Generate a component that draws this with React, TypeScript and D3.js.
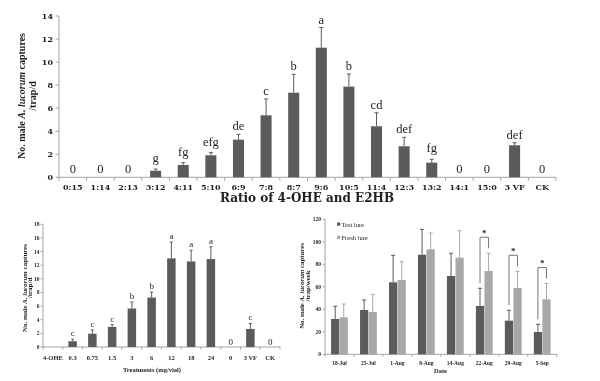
import React from 'react';
import * as d3 from 'd3';

// ---------- Data: top panel (ratio of 4-OHE : E2HB) ----------
const ratioCats = ['0:15', '1:14', '2:13', '3:12', '4:11', '5:10', '6:9', '7:8', '8:7', '9:6', '10:5', '11:4', '12:3', '13:2', '14:1', '15:0', '3 VF', 'CK'];
const ratioMeans = [0, 0, 0, 0.57, 1.07, 1.91, 3.27, 5.38, 7.34, 11.25, 7.87, 4.43, 2.69, 1.27, 0, 0, 2.78, 0];
const ratioErrs = [0, 0, 0, 0.15, 0.2, 0.23, 0.46, 1.42, 1.6, 1.75, 1.1, 1.17, 0.78, 0.29, 0, 0, 0.22, 0];
const ratioLetters = ['0', '0', '0', 'g', 'fg', 'efg', 'de', 'c', 'b', 'a', 'b', 'cd', 'def', 'fg', '0', '0', 'def', '0'];
const ratioTicks = [0, 2, 4, 6, 8, 10, 12, 14];

// ---------- Data: bottom-left panel (dose) ----------
const doseCats = ['4-OHE', '0.3', '0.75', '1.5', '3', '6', '12', '18', '24', '0', '3 VF', 'CK'];
const doseMeans = [0, 0.85, 1.95, 2.95, 5.65, 7.25, 13.0, 12.55, 12.9, 0, 2.65, 0];
const doseErrs = [0, 0.3, 0.55, 0.35, 0.95, 0.8, 2.4, 1.65, 1.8, 0, 0.8, 0];
const doseLetters = ['', 'c', 'c', 'c', 'b', 'b', 'a', 'a', 'a', '0', 'c', '0'];
const doseTicks = [0, 2, 4, 6, 8, 10, 12, 14, 16, 18];

// ---------- Data: bottom-right panel (dates) ----------
const dates = ['18-Jul', '25-Jul', '1-Aug', '8-Aug', '14-Aug', '22-Aug', '29-Aug', '5-Sep'];
const testMeans = [31.4, 39.4, 64, 88.5, 69.6, 43, 29.9, 19.8];
const testErrs = [11.3, 8.9, 24, 22.5, 20.2, 15.7, 9.2, 6.9];
const freshMeans = [32.9, 37.6, 66, 93.3, 85.9, 74, 59, 48.9];
const freshErrs = [11.8, 15.7, 16.3, 14.5, 24, 15.8, 14.8, 14];
const sigDates = ['22-Aug', '29-Aug', '5-Sep'];
const dateTicks = [0, 20, 40, 60, 80, 100, 120];
const seriesNames = ['Test lure', 'Fresh lure'];

const DARK = '#5b5b5b';
const LIGHT = '#a8a8a8';
const AXIS = '#a3a3a3';
const TXT = '#1e1e1e';
const SERIF = '"Liberation Serif", "Times New Roman", serif';
const WIDE = '"DejaVu Serif", serif';

function YLabel({ x1, x2, cy, size, second }: { x1: number; x2: number; cy: number; size: number; second: string }) {
  return (
    <g fontFamily={SERIF} fontWeight="bold" fontSize={size} fill={TXT} textAnchor="middle">
      <text transform={`translate(${x1},${cy}) rotate(-90)`}>
        No. male <tspan fontStyle="italic">A. lucorum</tspan> captures
      </text>
      <text transform={`translate(${x2},${cy}) rotate(-90)`}>{second}</text>
    </g>
  );
}

function TopPanel() {
  const x = d3.scaleBand<string>().domain(ratioCats).range([59, 556]).paddingInner(0.6).paddingOuter(0.3);
  const y = d3.scaleLinear().domain([0, 14]).range([177.3, 16]);
  const step = x.step();
  const bounds = d3.range(ratioCats.length + 1).map((i) => 59 + i * step);
  return (
    <g>
      <line x1={59} x2={59} y1={y(0)} y2={y(14)} stroke={AXIS} />
      {ratioTicks.map((t) => (
        <g key={t}>
          <line x1={55.5} x2={59} y1={y(t)} y2={y(t)} stroke={AXIS} />
          <text x={53} y={y(t) + 3} textAnchor="end" fontFamily={WIDE} fontWeight="bold" fontSize={8} fill={TXT}>{t}</text>
        </g>
      ))}
      <line x1={59} x2={556} y1={y(0)} y2={y(0)} stroke={AXIS} />
      {bounds.map((b, i) => (
        <line key={i} x1={b} x2={b} y1={y(0)} y2={y(0) + 3.5} stroke={AXIS} />
      ))}
      {ratioCats.map((c, i) => {
        const cx = (x(c) as number) + x.bandwidth() / 2;
        const m = ratioMeans[i];
        const e = ratioErrs[i];
        const lbl = ratioLetters[i];
        const desc = lbl.includes('g') ? 3 : 0;
        return (
          <g key={c}>
            {m > 0 && <rect x={x(c)} y={y(m)} width={x.bandwidth()} height={y(0) - y(m)} fill={DARK} />}
            {m > 0 && (
              <g stroke={DARK} strokeWidth={1}>
                <line x1={cx} x2={cx} y1={y(m)} y2={y(m + e)} />
                <line x1={cx - 2} x2={cx + 2} y1={y(m + e)} y2={y(m + e)} />
              </g>
            )}
            <text x={cx} y={m > 0 ? y(m + e) - 4 - desc : y(0) - 4.5} textAnchor="middle" fontFamily={SERIF} fontSize={12.5} fill={TXT}>
              {lbl}
            </text>
            <text x={cx} y={190} textAnchor="middle" fontFamily={WIDE} fontWeight="bold" fontSize={8} fill={TXT}>{c}</text>
          </g>
        );
      })}
      <text x={307} y={201.5} textAnchor="middle" fontFamily={WIDE} fontWeight="bold" fontSize={12} fill={TXT}>
        Ratio of 4-OHE and E2HB
      </text>
      <YLabel x1={25} x2={36} cy={96} size={10} second="/trap/d" />
    </g>
  );
}

function DosePanel() {
  const x = d3.scaleBand<string>().domain(doseCats).range([43, 280]).paddingInner(0.57).paddingOuter(0.285);
  const y = d3.scaleLinear().domain([0, 18]).range([347, 224.3]);
  const step = x.step();
  const bounds = d3.range(doseCats.length + 1).map((i) => 43 + i * step);
  return (
    <g>
      <line x1={43} x2={43} y1={y(0)} y2={y(18)} stroke={AXIS} />
      {doseTicks.map((t) => (
        <g key={t}>
          <line x1={40.5} x2={43} y1={y(t)} y2={y(t)} stroke={AXIS} />
          <text x={39.5} y={y(t) + 2} textAnchor="end" fontFamily={SERIF} fontWeight="bold" fontSize={5.5} fill={TXT}>{t}</text>
        </g>
      ))}
      <line x1={43} x2={280} y1={y(0)} y2={y(0)} stroke={AXIS} />
      {bounds.map((b, i) => (
        <line key={i} x1={b} x2={b} y1={y(0)} y2={y(0) + 2.5} stroke={AXIS} />
      ))}
      {doseCats.map((c, i) => {
        const cx = (x(c) as number) + x.bandwidth() / 2;
        const m = doseMeans[i];
        const e = doseErrs[i];
        return (
          <g key={c}>
            {m > 0 && <rect x={x(c)} y={y(m)} width={x.bandwidth()} height={y(0) - y(m)} fill={DARK} />}
            {m > 0 && (
              <g stroke={DARK} strokeWidth={1}>
                <line x1={cx} x2={cx} y1={y(m)} y2={y(m + e)} />
                <line x1={cx - 1.5} x2={cx + 1.5} y1={y(m + e)} y2={y(m + e)} />
              </g>
            )}
            <text x={cx} y={m > 0 ? y(m + e) - 3 : y(0) - 2} textAnchor="middle" fontFamily={SERIF} fontSize={9} fill={TXT}>
              {doseLetters[i]}
            </text>
            <text x={cx} y={360} textAnchor="middle" fontFamily={SERIF} fontWeight="bold" fontSize={6.5} fill={TXT}>{c}</text>
          </g>
        );
      })}
      <text x={152} y={371.5} textAnchor="middle" fontFamily={SERIF} fontWeight="bold" fontSize={6.5} fill={TXT}>
        Treatments (mg/vial)
      </text>
      <YLabel x1={26.5} x2={32} cy={288} size={7} second="/trap/d" />
    </g>
  );
}

function DatePanel() {
  const x = d3.scaleBand<string>().domain(dates).range([325, 556.7]).paddingInner(0.42).paddingOuter(0.21);
  const sub = d3.scaleBand<string>().domain(seriesNames).range([0, x.bandwidth()]).paddingInner(0.04);
  const y = d3.scaleLinear().domain([0, 120]).range([354.3, 219.3]);
  const step = x.step();
  const bounds = d3.range(dates.length + 1).map((i) => 325 + i * step);
  const series = [
    { name: seriesNames[0], means: testMeans, errs: testErrs, color: DARK },
    { name: seriesNames[1], means: freshMeans, errs: freshErrs, color: LIGHT },
  ];
  return (
    <g>
      <line x1={325} x2={325} y1={y(0)} y2={y(120)} stroke={AXIS} />
      {dateTicks.map((t) => (
        <g key={t}>
          <line x1={322.5} x2={325} y1={y(t)} y2={y(t)} stroke={AXIS} />
          <text x={321} y={y(t) + 2} textAnchor="end" fontFamily={SERIF} fontWeight="bold" fontSize={5.5} fill={TXT}>{t}</text>
        </g>
      ))}
      <line x1={325} x2={556.7} y1={y(0)} y2={y(0)} stroke={AXIS} />
      {bounds.map((b, i) => (
        <line key={i} x1={b} x2={b} y1={y(0)} y2={y(0) + 2.5} stroke={AXIS} />
      ))}
      {dates.map((d, i) => {
        const gx = x(d) as number;
        return (
          <g key={d}>
            {series.map((s) => {
              const bx = gx + (sub(s.name) as number);
              const cx = bx + sub.bandwidth() / 2;
              const m = s.means[i];
              const e = s.errs[i];
              return (
                <g key={s.name}>
                  <rect x={bx} y={y(m)} width={sub.bandwidth()} height={y(0) - y(m)} fill={s.color} />
                  <g stroke={s.color} strokeWidth={1}>
                    <line x1={cx} x2={cx} y1={y(m)} y2={y(m + e)} />
                    <line x1={cx - 2} x2={cx + 2} y1={y(m + e)} y2={y(m + e)} />
                  </g>
                </g>
              );
            })}
            <text x={gx + x.bandwidth() / 2} y={365} textAnchor="middle" fontFamily={SERIF} fontWeight="bold" fontSize={5.5} fill={TXT}>{d}</text>
          </g>
        );
      })}
      {sigDates.map((d) => {
        const i = dates.indexOf(d);
        const gx = x(d) as number;
        const c1 = gx + (sub(seriesNames[0]) as number) + sub.bandwidth() / 2;
        const c2 = gx + (sub(seriesNames[1]) as number) + sub.bandwidth() / 2;
        const top1 = y(testMeans[i] + testErrs[i]);
        const top2 = y(freshMeans[i] + freshErrs[i]);
        const by = Math.min(top1, top2) - 16;
        return (
          <g key={d}>
            <path d={`M${c1},${top1 - 5}V${by}H${c2}V${top2 - 5}`} fill="none" stroke="#777" strokeWidth={1} />
            <text x={(c1 + c2) / 2} y={by - 1.5} textAnchor="middle" fontFamily={SERIF} fontWeight="bold" fontSize={9} fill={TXT}>*</text>
          </g>
        );
      })}
      {series.map((s, k) => (
        <g key={s.name}>
          <rect x={337} y={222.5 + k * 13.3} width={3.2} height={3.2} fill={s.color} />
          <text x={341.5} y={226.5 + k * 13.3} fontFamily={SERIF} fontSize={6.5} fill={TXT}>{s.name}</text>
        </g>
      ))}
      <text x={440.5} y={372.5} textAnchor="middle" fontFamily={SERIF} fontWeight="bold" fontSize={6.5} fill={TXT}>Date</text>
      <YLabel x1={304} x2={310} cy={286} size={6.8} second="/trap/week" />
    </g>
  );
}

export default function App() {
  return (
    <svg
      width={600}
      height={381}
      viewBox="0 0 600 381"
      style={{ position: 'absolute', left: 0, top: 0, background: '#fff', willChange: 'transform' }}
    >
      <rect width={600} height={381} fill="#fff" />
      <TopPanel />
      <DosePanel />
      <DatePanel />
    </svg>
  );
}
